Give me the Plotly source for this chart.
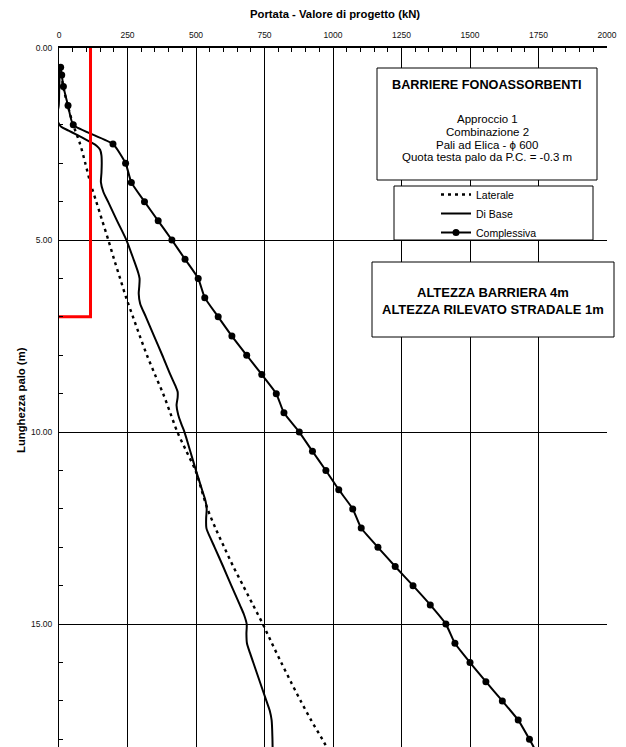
import plotly.graph_objects as go

# ---- data -------------------------------------------------------------
# Complessiva: total design capacity (kN) vs pile length (m)
depth_tot = [0.5, 0.7, 1.0, 1.5, 2.0, 2.5, 3.0, 3.5, 4.0, 4.5, 5.0, 5.5, 6.0,
             6.5, 7.0, 7.5, 8.0, 8.5, 9.0, 9.5, 10.0, 10.5, 11.0, 11.5, 12.0,
             12.5, 13.0, 13.5, 14.0, 14.5, 15.0, 15.5, 16.0, 16.5, 17.0, 17.5,
             18.0, 18.5]
complessiva = [6, 10, 16, 33, 52, 197, 243, 264, 312, 362, 412, 460, 508,
               532, 581, 631, 685, 740, 793, 821, 877, 925, 974, 1021, 1072,
               1103, 1164, 1227, 1292, 1355, 1412, 1445, 1500, 1558, 1618, 1676,
               1717, 1755]

# Laterale: shaft resistance (kN)
depth_lat = depth_tot
laterale = [5, 9, 15, 32, 52, 77, 96, 114, 136, 158, 180, 201, 223,
            245, 270, 295, 321, 350, 380, 406, 432, 465, 498, 520, 542,
            571, 603, 636, 672, 708, 744, 777, 811, 846, 882, 920,
            961, 1000]

# Di Base: base resistance (kN)
depth_base = [0.5, 1.0, 1.5, 1.65, 1.8, 1.95, 2.05, 2.15, 2.25, 2.35, 2.45,
              2.55, 2.65, 2.8, 3.0, 3.25, 3.5, 3.75, 4.0, 4.5, 5.0, 5.5,
              5.85, 6.0, 6.2, 6.4, 6.65, 7.0, 7.5, 8.0, 8.5, 8.8, 8.95,
              9.1, 9.3, 9.55, 9.8, 10.0, 10.5, 11.0, 11.5, 11.8, 12.0,
              12.25, 12.5, 12.75, 13.0, 13.5, 14.0, 14.5, 14.75, 15.0,
              15.25, 15.5, 15.75, 16.0, 16.5, 17.0, 17.25, 17.5, 18.0, 18.5]
di_base = [3, 1, -1, -5, -9, -2, 8, 35, 62, 90, 115,
           138, 150, 155, 156, 155, 153, 162, 179, 212, 246, 272,
           289, 294, 293, 291, 296, 317, 347, 377, 406, 425, 433,
           433, 429, 435, 447, 458, 479, 500, 522, 535, 539,
           537, 538, 552, 568, 599, 629, 660, 675, 685,
           684, 686, 697, 709, 733, 757, 769, 776, 779, 780]

# Limit line (red): load level and depth
limite_x = [115, 115, 0]
limite_y = [0, 7.0, 7.0]

x_ticks = [0, 250, 500, 750, 1000, 1250, 1500, 1750, 2000]
y_ticks = [0, 5, 10, 15]

# ---- page geometry ------------------------------------------------------
W, H = 626, 747
L, R, T, B = 59, 19, 48, 0
PW, PH = W - L - R, H - T - B
FONT = "Liberation Sans, Arial, sans-serif"


def px(x):
    return (x - L) / PW


def py(y):
    return 1 - (y - T) / PH


fig = go.Figure()

fig.add_trace(go.Scatter(
    x=laterale, y=depth_lat, name="Laterale", mode="lines",
    line=dict(color="black", width=2.4, dash="3px,4px", shape="spline", smoothing=0.8),
))
fig.add_trace(go.Scatter(
    x=di_base, y=depth_base, name="Di Base", mode="lines",
    line=dict(color="black", width=2, shape="spline", smoothing=0.8),
))
fig.add_trace(go.Scatter(
    x=complessiva, y=depth_tot, name="Complessiva", mode="lines+markers",
    line=dict(color="black", width=2, shape="spline", smoothing=0.5),
    marker=dict(color="black", size=7, symbol="circle"),
))
fig.add_trace(go.Scatter(
    x=limite_x, y=limite_y, mode="lines", showlegend=False,
    line=dict(color="#ff0000", width=3),
))

# boxes: info panel, legend frame, barrier panel
boxes = [(377, 68, 597, 180), (394, 186, 593, 240), (372, 262, 614, 337)]
shapes = []
for x0, y0, x1, y1 in boxes:
    shapes.append(dict(type="rect", xref="paper", yref="paper",
                       x0=px(x0), x1=px(x1), y0=py(y1), y1=py(y0),
                       line=dict(color="black", width=1), fillcolor="white",
                       layer="above"))

annotations = [
    dict(text="<b>Portata - Valore di progetto (kN)</b>", x=px(335), y=py(14),
         font=dict(size=11.3)),
    dict(text="<b>Lunghezza palo (m)</b>", x=px(21), y=py(400), textangle=-90,
         font=dict(size=11.3)),
    dict(text="<b>BARRIERE FONOASSORBENTI</b>", x=px(487), y=py(85),
         font=dict(size=12.7)),
    dict(text="Approccio 1", x=px(487), y=py(118.5), font=dict(size=11.5)),
    dict(text="Combinazione 2", x=px(487), y=py(131.5), font=dict(size=11.5)),
    dict(text="Pali ad Elica - \u03d5 600", x=px(487), y=py(144.5), font=dict(size=11.5)),
    dict(text="Quota testa palo da P.C. = -0.3 m", x=px(487), y=py(157.5),
         font=dict(size=11.5)),
    dict(text="<b>ALTEZZA BARRIERA 4m</b>", x=px(493), y=py(292.5), font=dict(size=13)),
    dict(text="<b>ALTEZZA RILEVATO STRADALE 1m</b>", x=px(493), y=py(310),
         font=dict(size=13)),
]
for a in annotations:
    a.update(xref="paper", yref="paper", showarrow=False,
             xanchor="center", yanchor="middle")
    a["font"].update(family=FONT, color="black")

fig.update_layout(
    width=W, height=H,
    margin=dict(l=L, r=R, t=T, b=B, pad=0),
    paper_bgcolor="white", plot_bgcolor="white",
    font=dict(family=FONT, color="black"),
    shapes=shapes, annotations=annotations,
    showlegend=True,
    legend=dict(x=px(436), y=py(180), xanchor="left", yanchor="top",
                bgcolor="rgba(0,0,0,0)", borderwidth=0, tracegroupgap=0,
                font=dict(family=FONT, size=10.5, color="black")),
    xaxis=dict(
        side="top", range=[0, 2000], tickvals=x_ticks,
        showgrid=True, gridcolor="black", gridwidth=1,
        showline=True, linecolor="black", linewidth=1.5,
        ticks="inside", ticklen=5, tickcolor="black", tickwidth=1,
        minor=dict(dtick=50, tick0=0, ticks="inside", ticklen=4,
                   tickcolor="black", showgrid=False),
        tickfont=dict(family=FONT, size=8.5, color="#111"),
        ticklabelstandoff=5, zeroline=False,
    ),
    yaxis=dict(
        range=[18.2, 0], tickvals=y_ticks, tickformat=".2f",
        showgrid=True, gridcolor="black", gridwidth=1,
        showline=True, linecolor="black", linewidth=1,
        ticks="inside", ticklen=4, tickcolor="black", tickwidth=1,
        minor=dict(dtick=1, tick0=0, ticks="inside", ticklen=4,
                   tickcolor="black", showgrid=False),
        tickfont=dict(family=FONT, size=8.5, color="#111"),
        ticklabelstandoff=4, zeroline=False,
    ),
)

fig.write_html("out.html")
